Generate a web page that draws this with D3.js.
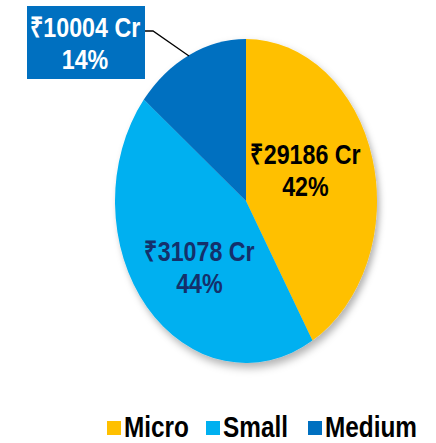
<!DOCTYPE html>
<html lang="en">
<head>
<meta charset="utf-8">
<style>
  body { margin: 0; background: #fff; }
  text { font-family: "Liberation Sans", Arial, sans-serif; font-weight: bold; }
</style>
</head>
<body>
<script src="https://cdn.jsdelivr.net/npm/d3@7"></script>
<div id="chart"></div>
<script>
// data
var categories = ["Micro", "Small", "Medium"];
var values = [29186, 31078, 10004];
var colors = ["#FFC000", "#00B0F0", "#0070C0"];
var labelColors = ["#000000", "#14306B", "#ffffff"];

var width = 436, height = 443;
var cx = 246, cy = 201, rx = 131, ry = 162;
var r = 100;
var narrow = 0.83; // squeeze Liberation Sans to look like Arial Narrow

var svg = d3.select("#chart").append("svg")
    .attr("width", width)
    .attr("height", height);

// soft shadow under the pie
var defs = svg.append("defs");
var f = defs.append("filter").attr("id", "shadow")
    .attr("x", "-10%").attr("y", "-10%").attr("width", "125%").attr("height", "125%");
f.append("feDropShadow").attr("dx", 2).attr("dy", 3).attr("stdDeviation", 2.5)
    .attr("flood-color", "#000").attr("flood-opacity", 0.3);

var total = d3.sum(values);
var pie = d3.pie().sort(null).value(function (d) { return d; });
var arcs = pie(values);
var arc = d3.arc().innerRadius(0).outerRadius(r);

// pie drawn on a circle, then squashed into the ellipse
var g = svg.append("g")
    .attr("transform", "translate(" + cx + "," + cy + ") scale(" + (rx / r) + "," + (ry / r) + ")")
    .attr("filter", "url(#shadow)");

g.selectAll("path")
    .data(arcs)
    .enter()
    .append("path")
    .attr("d", arc)
    .style("fill", function (d, i) { return colors[i] })
    .style("stroke", "none");

function fmt(v) { return "\u20B9" + v + " Cr"; }
function pct(v) { return Math.round(v / total * 100) + "%"; }

// two-line label, squeezed horizontally
function label(x, y, lines, size, color) {
    var t = svg.append("g")
        .attr("transform", "translate(" + x + "," + y + ") scale(" + narrow + ",1)")
        .append("text")
        .attr("text-anchor", "middle")
        .style("font-size", size + "px")
        .style("fill", color);
    lines.forEach(function (s, k) {
        t.append("tspan").attr("x", 0).attr("y", k * 32).text(s);
    });
    return t;
}

// label position inside a slice: centroid at half radius, mapped to the ellipse
var labelArc = d3.arc().innerRadius(r * 0.47).outerRadius(r * 0.47);
function pos(d) {
    var c = labelArc.centroid(d);
    return [cx + c[0] * rx / r, cy + c[1] * ry / r];
}

var dyFix = [-17, 10];
[0, 1].forEach(function (i) {
    var p = pos(arcs[i]);
    label(p[0], p[1] + dyFix[i], [fmt(values[i]), pct(values[i])], 28, labelColors[i]);
});

// Medium label sits in a box outside, with a leader line
var bx = 27, by = 6, bw = 118, bh = 73;
svg.append("polyline")
    .attr("points", [[bx + bw, by + 25], [bx + bw + 8, by + 25], [189, 56]].join(" "))
    .style("fill", "none")
    .style("stroke", "#000")
    .style("stroke-width", 1.3);
svg.append("rect")
    .attr("x", bx).attr("y", by).attr("width", bw).attr("height", bh)
    .style("fill", colors[2]);
label(bx + bw / 2 - 1, by + 31, [fmt(values[2]), pct(values[2])], 28, labelColors[2]);

// legend
var legendX = [107, 206, 308];
var leg = svg.append("g");
categories.forEach(function (c, i) {
    leg.append("rect")
        .attr("x", legendX[i]).attr("y", 421)
        .attr("width", 14).attr("height", 14)
        .style("fill", colors[i]);
    leg.append("g")
        .attr("transform", "translate(" + (legendX[i] + 17) + ",437) scale(0.84,1)")
        .append("text")
        .style("font-size", "29px")
        .style("fill", "#000")
        .text(c);
});
</script>
</body>
</html>
